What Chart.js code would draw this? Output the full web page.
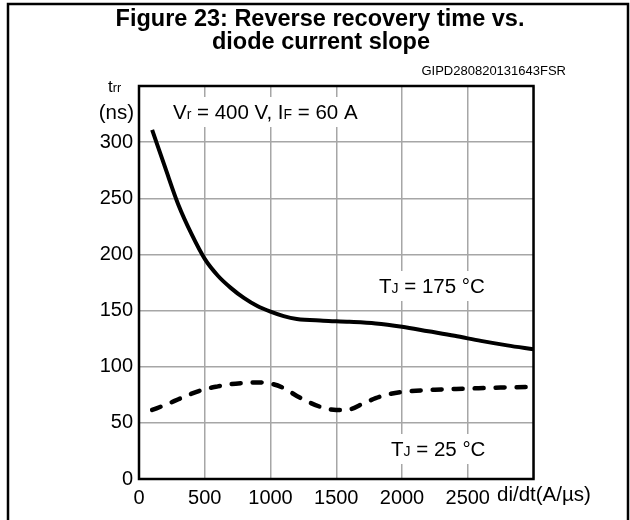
<!DOCTYPE html>
<html>
<head>
<meta charset="utf-8">
<script src="https://cdn.jsdelivr.net/npm/chart.js@4/dist/chart.umd.min.js"></script>
<style>
  html, body { margin: 0; padding: 0; background: #fff; }
  #wrap { width: 630px; height: 520px; position: relative; }
</style>
</head>
<body>
<div id="wrap"><canvas id="c" width="630" height="520"></canvas></div>
<script>
// ---- data ----
const didt175 = [100, 200, 300, 400, 500, 600, 700, 800, 900, 1000, 1100, 1200, 1400, 1600, 1800, 2000, 2200, 2400, 2600, 2800, 3000];
const trr175  = [311, 277, 244, 218, 196, 181, 170, 161, 154, 149, 145, 142.5, 141, 140, 138.5, 135.5, 131.5, 127.5, 123, 119, 115.5];
const didt25 = [100, 200, 300, 400, 500, 600, 700, 800, 900, 1000, 1100, 1200, 1300, 1400, 1500, 1600, 1700, 1800, 1900, 2000, 2250, 2500, 2750, 3000];
const trr25  = [61.5, 66, 71, 76, 80, 82.5, 84.5, 85.5, 86, 85, 81, 74, 68, 63.5, 61.5, 62, 67, 72, 75.5, 77.5, 79.5, 80.5, 81.5, 82];
const xTicks = [0, 500, 1000, 1500, 2000, 2500];
const yTicks = [0, 50, 100, 150, 200, 250, 300];
const titleLines = ["Figure 23: Reverse recovery time vs.", "diode current slope"];
const codeLabel = "GIPD280820131643FSR";
const xAxisTitle = "di/dt(A/µs)";

const FF = '"Liberation Sans", Arial, sans-serif';

function pts(xs, ys) { return xs.map((x, i) => ({ x: x, y: ys[i] })); }

function drawRich(ctx, parts, x, y) {
  let cx = x;
  for (const p of parts) {
    ctx.font = p[1] + 'px ' + FF;
    ctx.fillText(p[0], cx, y);
    cx += ctx.measureText(p[0]).width;
  }
  return cx;
}
function richWidth(ctx, parts) {
  let w = 0;
  for (const p of parts) { ctx.font = p[1] + 'px ' + FF; w += ctx.measureText(p[0]).width; }
  return w;
}

const decor = {
  id: 'decor',
  beforeDatasetsDraw(chart) {
    const ctx = chart.ctx;
    ctx.save();
    ctx.fillStyle = '#000';
    ctx.textBaseline = 'alphabetic';
    ctx.textAlign = 'left';
    const notes = [
      { parts: [['V', 20.5], ['r', 14], [' = 400 V, I', 20.5], ['F', 14], [' = 60 A', 20.5]], x: 173, y: 119 },
      { parts: [['T', 20.5], ['J', 14], [' = 175 °C', 20.5]], x: 379, y: 293 },
      { parts: [['T', 20.5], ['J', 14], [' = 25 °C', 20.5]], x: 391, y: 456 }
    ];
    for (const n of notes) {
      const w = richWidth(ctx, n.parts);
      ctx.fillStyle = '#fff';
      ctx.fillRect(n.x - 8, n.y - 22, w + 16, 30);
      ctx.fillStyle = '#000';
      drawRich(ctx, n.parts, n.x, n.y);
    }
    ctx.restore();
  },
  afterDraw(chart) {
    const ctx = chart.ctx;
    const a = chart.chartArea;
    ctx.save();
    ctx.strokeStyle = '#000';
    ctx.lineWidth = 2.5;
    ctx.strokeRect(a.left, a.top, a.right - a.left, a.bottom - a.top);
    ctx.beginPath();
    ctx.moveTo(8, 522); ctx.lineTo(8, 4); ctx.lineTo(628, 4); ctx.lineTo(628, 522);
    ctx.stroke();
    ctx.fillStyle = '#000';
    ctx.textAlign = 'center';
    ctx.textBaseline = 'alphabetic';
    ctx.font = 'bold 23.5px ' + FF;
    ctx.fillText(titleLines[0], 320, 26);
    ctx.fillText(titleLines[1], 321, 49);
    ctx.textAlign = 'right';
    ctx.font = '13px ' + FF;
    ctx.fillText(codeLabel, 566, 75);
    ctx.textAlign = 'left';
    drawRich(ctx, [['t', 17], ['rr', 12.5]], 108, 92);
    ctx.textAlign = 'right';
    ctx.font = '20.5px ' + FF;
    ctx.fillText('(ns)', 134, 119);
    ctx.textAlign = 'left';
    ctx.fillText(xAxisTitle, 497, 501);
    ctx.restore();
  }
};

new Chart(document.getElementById('c'), {
  type: 'line',
  data: {
    datasets: [
      {
        label: 'TJ = 175 °C',
        data: pts(didt175, trr175),
        borderColor: '#000',
        borderWidth: 4,
        pointRadius: 0,
        fill: false,
        cubicInterpolationMode: 'monotone',
        borderCapStyle: 'butt'
      },
      {
        label: 'TJ = 25 °C',
        data: pts(didt25, trr25),
        borderColor: '#000',
        borderWidth: 4.5,
        pointRadius: 0,
        fill: false,
        cubicInterpolationMode: 'monotone',
        borderDash: [9, 12],
        borderCapStyle: 'round'
      }
    ]
  },
  options: {
    responsive: false,
    animation: false,
    events: [],
    layout: { padding: { left: 0, top: 86, right: 96.5, bottom: 0 } },
    plugins: { legend: { display: false }, title: { display: false }, tooltip: { enabled: false } },
    scales: {
      x: {
        type: 'linear',
        min: 0, max: 3000,
        afterFit(s) { s.height = 41; },
        afterBuildTicks(s) { s.ticks = xTicks.concat([3000]).map(v => ({ value: v })); },
        grid: { color: '#a6a6a6', lineWidth: 1.5, drawTicks: false },
        border: { display: false },
        ticks: {
          color: '#000',
          font: { family: FF, size: 20 },
          padding: 7,
          maxRotation: 0,
          autoSkip: false,
          callback: (v) => (xTicks.includes(v) ? String(v) : '')
        }
      },
      y: {
        type: 'linear',
        min: 0, max: 350,
        afterFit(s) { s.width = 139; },
        afterBuildTicks(s) { s.ticks = yTicks.concat([350]).map(v => ({ value: v })); },
        grid: { color: '#a6a6a6', lineWidth: 1.5, drawTicks: false },
        border: { display: false },
        ticks: {
          color: '#000',
          font: { family: FF, size: 20 },
          padding: 6,
          autoSkip: false,
          callback: (v) => (yTicks.includes(v) ? String(v) : '')
        }
      }
    }
  },
  plugins: [decor]
});
</script>
</body>
</html>
